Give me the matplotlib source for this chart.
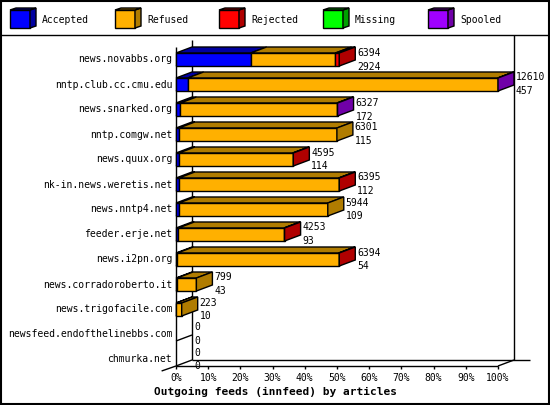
import numpy as np
import matplotlib.pyplot as plt
from matplotlib.patches import Polygon

# donnees
feeds = ['news.novabbs.org', 'nntp.club.cc.cmu.edu', 'news.snarked.org', 'nntp.comgw.net',
         'news.quux.org', 'nk-in.news.weretis.net', 'news.nntp4.net', 'feeder.erje.net',
         'news.i2pn.org', 'news.corradoroberto.it', 'news.trigofacile.com',
         'newsfeed.endofthelinebbs.com', 'chmurka.net']
totals = [6394, 12610, 6327, 6301, 4595, 6395, 5944, 4253, 6394, 799, 223, 0, 0]
accepted = [2924, 457, 172, 115, 114, 112, 109, 93, 54, 43, 10, 0, 0]
rejected = [150, 0, 0, 0, 25, 25, 0, 25, 25, 0, 0, 0, 0]
missing = [0] * 13
spooled = [0, 8, 25, 0, 0, 0, 0, 0, 0, 0, 0, 0, 0]
refused = [t - a - r - m - s for t, a, r, m, s in zip(totals, accepted, rejected, missing, spooled)]

cats = ['Accepted', 'Refused', 'Rejected', 'Missing', 'Spooled']
front = ['#0000ff', '#ffb000', '#ff0000', '#00ff00', '#a000ff']
dark = ['#0000a0', '#b07c00', '#b00000', '#00a000', '#7000a8']
mono = 'DejaVu Sans Mono'
fs = 7

W, H = 550, 405
fig = plt.figure(figsize=(5.5, 4.05), dpi=100)
# overlay in pixel coords for frame / legend / title
bg = fig.add_axes([0, 0, 1, 1])
bg.set_xlim(0, W)
bg.set_ylim(H, 0)
bg.axis('off')

x0px, x1px = 176, 498
ytop, ybot = 35, 369
ax = fig.add_axes([x0px / W, 1 - ybot / H, (x1px - x0px) / W, (ybot - ytop) / H])
ax.set_xlim(0, 100)
ax.set_ylim((ybot - 59.5) / 25, (ytop - 59.5) / 25)
ax.axis('off')

dx = 16 / 3.22   # profondeur en %
dy = 6 / 25.0    # profondeur en rangees
hh = 0.26        # demi hauteur face avant
vmax = max(totals)

def line(a, xs, ys, **kw):
    a.plot(xs, ys, color='black', lw=1, clip_on=False, solid_capstyle='butt', zorder=1, **kw)

# murs et sol
ybf = 12 + 6.5 / 25
line(ax, [0, 0], [-0.5, ybf])
line(ax, [dx, dx], [-0.8, ybf - dy])
line(ax, [0, 100], [ybf, ybf])
line(ax, [100, 100 + dx], [ybf, ybf - dy])
line(ax, [dx, 100 + dx + 5], [ybf - dy, ybf - dy])
line(ax, [100 + dx, 100 + dx], [ybf - dy, (ytop - 59.5) / 25])
line(ax, [-dx * 0.9, 0], [ybf + 0.2, ybf])
for i in range(len(feeds)):
    line(ax, [0, dx], [i + hh, i + hh - dy])
for k in range(11):
    line(ax, [k * 10, k * 10], [ybf, ybf + 0.12])
    ax.text(k * 10, ybf + 0.5, '%d%%' % (k * 10), ha='center', va='center',
            fontsize=fs, family=mono)

# barres
for i, name in enumerate(feeds):
    segs = [accepted[i], refused[i], rejected[i], missing[i], spooled[i]]
    x = 0.0
    last = None
    for c, v in enumerate(segs):
        if v <= 0:
            continue
        w = 100.0 * v / vmax
        ax.add_patch(Polygon([[x, i - hh], [x + w, i - hh], [x + w + dx, i - hh - dy], [x + dx, i - hh - dy]],
                             closed=True, fc=dark[c], ec='black', lw=1, clip_on=False, zorder=3))
        ax.add_patch(Polygon([[x, i - hh], [x + w, i - hh], [x + w, i + hh], [x, i + hh]],
                             closed=True, fc=front[c], ec='black', lw=1, clip_on=False, zorder=3))
        x += w
        last = c
    if last is not None:
        ax.add_patch(Polygon([[x, i - hh], [x + dx, i - hh - dy], [x + dx, i + hh - dy], [x, i + hh]],
                             closed=True, fc=dark[last], ec='black', lw=1, clip_on=False, zorder=3))
    ex = x + dx + 0.6
    ax.text(ex, i - hh - 0.02, str(totals[i]), ha='left', va='center', fontsize=fs, family=mono)
    ax.text(ex, i + hh + 0.02, str(accepted[i]), ha='left', va='center', fontsize=fs, family=mono)
    ax.text(-1.2, i, name, ha='right', va='center', fontsize=fs, family=mono)

# cadre et legende
bg.add_patch(plt.Rectangle((0.5, 0.5), W - 1.5, H - 1.5, fill=False, ec='black', lw=1.5))
line(bg, [0, W], [35, 35])
lx = [10, 115, 219, 323, 428]
for c, name in enumerate(cats):
    x = lx[c]
    bg.add_patch(Polygon([[x, 10], [x + 20, 10], [x + 20, 28], [x, 28]], closed=True,
                         fc=front[c], ec='black', lw=1))
    bg.add_patch(Polygon([[x + 20, 10], [x + 26, 8], [x + 26, 26], [x + 20, 28]], closed=True,
                         fc=dark[c], ec='black', lw=1))
    bg.add_patch(Polygon([[x, 10], [x + 6, 8], [x + 26, 8], [x + 20, 10]], closed=True,
                         fc=dark[c], ec='black', lw=1))
    bg.text(x + 32, 20, name, ha='left', va='center', fontsize=fs, family=mono)

bg.text(275, 392, 'Outgoing feeds (innfeed) by articles', ha='center', va='center',
        fontsize=8, family=mono, weight='bold')

fig.savefig('out.png', dpi=100)
